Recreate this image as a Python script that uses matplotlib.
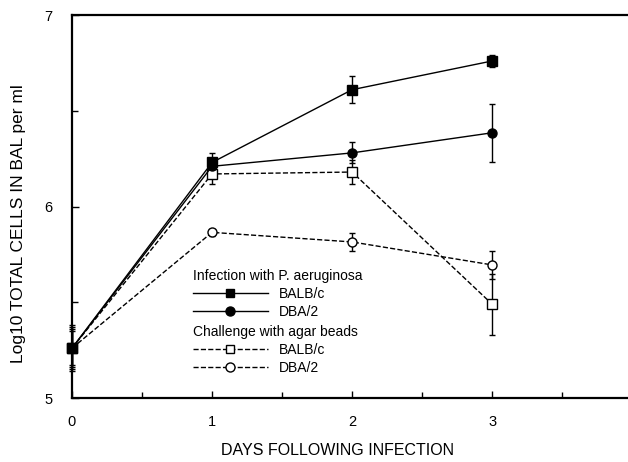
import matplotlib
matplotlib.use("Agg")
import matplotlib.pyplot as plt
from matplotlib.lines import Line2D

plt.rcParams['font.family'] = ['Liberation Sans', 'DejaVu Sans']

days = [0, 1, 2, 3]
inf_balb = [5.26, 6.23, 6.61, 6.76]
inf_balb_err = [0.10, 0.05, 0.07, 0.03]
inf_dba = [5.26, 6.21, 6.28, 6.385]
inf_dba_err = [0.09, 0.04, 0.055, 0.15]
agar_balb = [5.26, 6.17, 6.18, 5.49]
agar_balb_err = [0.12, 0.05, 0.065, 0.16]
agar_dba = [5.26, 5.865, 5.815, 5.695]
agar_dba_err = [0.11, 0.02, 0.045, 0.075]

fig = plt.figure(figsize=(6.28, 4.62), dpi=100)
ax = fig.add_axes([0.1146, 0.1385, 0.8854, 0.829])

lw = 1.0
kw = dict(capsize=2.5, elinewidth=1.0, capthick=1.0, lw=lw, color='black', markersize=6.5, clip_on=False, zorder=3)
ax.errorbar(days, agar_dba, yerr=agar_dba_err, fmt='o', ls='--', mfc='white', mec='black', mew=1.0, **kw)
ax.errorbar(days, agar_balb, yerr=agar_balb_err, fmt='s', ls='--', mfc='white', mec='black', mew=1.0, **kw)
ax.errorbar(days, inf_dba, yerr=inf_dba_err, fmt='o', ls='-', mfc='black', mec='black', **kw)
ax.errorbar(days, inf_balb, yerr=inf_balb_err, fmt='s', ls='-', mfc='black', mec='black', **kw)

ax.set_xlim(0, 3.97)
ax.set_ylim(5, 7)
ax.set_xticks([0, 1, 2, 3])
ax.set_xticks([0.5, 1.5, 2.5, 3.5], minor=True)
ax.set_yticks([5, 6, 7])
ax.set_yticks([5.5, 6.5], minor=True)
ax.tick_params(which='both', direction='in', width=1.0, labelsize=10.5)
ax.tick_params(which='major', length=5)
ax.tick_params(which='minor', length=4)
ax.tick_params(axis='y', pad=14)
ax.tick_params(axis='x', pad=12)
ax.spines['right'].set_visible(False)
for s in ['left', 'bottom', 'top']:
    ax.spines[s].set_linewidth(1.6)

ax.set_xlabel('DAYS FOLLOWING INFECTION', fontsize=11.5)
ax.xaxis.set_label_coords(0.477, -0.118)
ax.set_ylabel('Log10 TOTAL CELLS IN BAL per ml', fontsize=12.5)
ax.yaxis.set_label_coords(-0.083, 0.455)

h1 = [Line2D([], [], color='black', lw=lw, marker='s', markersize=6, mfc='black'),
      Line2D([], [], color='black', lw=lw, marker='o', markersize=6.5, mfc='black')]
h2 = [Line2D([], [], color='black', lw=lw, ls='--', marker='s', markersize=6, mfc='white'),
      Line2D([], [], color='black', lw=lw, ls='--', marker='o', markersize=6.5, mfc='white')]
leg_kw = dict(frameon=False, fontsize=10, title_fontsize=10, alignment='left', loc='upper left',
              handlelength=5.4, handletextpad=0.8, borderpad=0, borderaxespad=0, labelspacing=0.3)
leg1 = ax.legend(h1, ['BALB/c', 'DBA/2'], title='Infection with P. aeruginosa',
                 bbox_to_anchor=(0.217, 0.337), **leg_kw)
ax.add_artist(leg1)
ax.legend(h2, ['BALB/c', 'DBA/2'], title='Challenge with agar beads',
          bbox_to_anchor=(0.217, 0.191), **leg_kw)

fig.savefig('out.png', dpi=100)
